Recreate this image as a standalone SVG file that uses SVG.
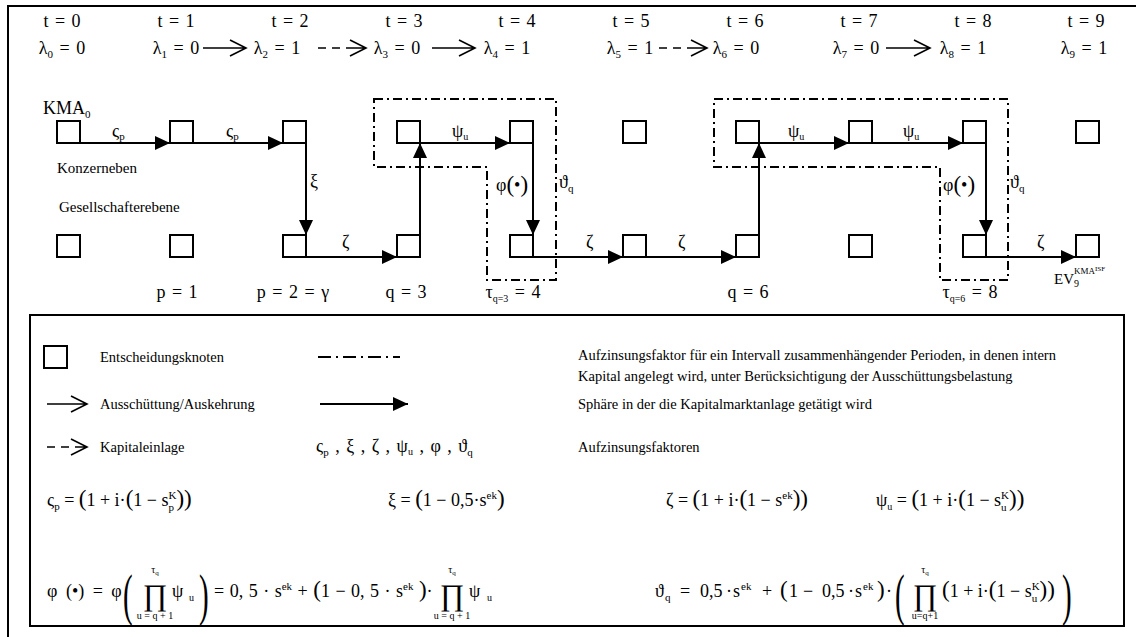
<svg xmlns="http://www.w3.org/2000/svg" width="1136" height="637" viewBox="0 0 1136 637">
<defs>
<marker id="ah" markerUnits="userSpaceOnUse" markerWidth="16" markerHeight="16" refX="15" refY="8" orient="auto">
<path d="M0,1 L15,8 L0,15 Z" fill="#000"/>
</marker>
<style>
text{font-family:"Liberation Serif","Times New Roman",serif;fill:#000}
.m{font-size:18px}
.ws{word-spacing:2px}
.w{font-size:15px}
.lg{font-size:14.5px}
.sb{font-size:11px}
.ss{font-size:10px}
.bp{font-size:23px}
.pr{font-size:30px}
.nd{fill:#fff;stroke:#000;stroke-width:2}
.cn{fill:none;stroke:#000;stroke-width:2;marker-end:url(#ah)}
.dd{fill:none;stroke:#000;stroke-width:2;stroke-dasharray:9 4 2 4}
.oa{fill:none;stroke:#000;stroke-width:1.6}
.da{stroke-dasharray:8 6}
.fr{fill:none;stroke:#000;stroke-width:2}
</style>
</defs>
<rect width="1136" height="637" fill="#fff"/>
<path class="fr" d="M8,637 V6 H1136"/>

<g id="time">
<text class="m ws" x="62" y="27" text-anchor="middle">t = 0</text>
<text class="m ws" x="176" y="27" text-anchor="middle">t = 1</text>
<text class="m ws" x="290" y="27" text-anchor="middle">t = 2</text>
<text class="m ws" x="404" y="27" text-anchor="middle">t = 3</text>
<text class="m ws" x="517" y="27" text-anchor="middle">t = 4</text>
<text class="m ws" x="631" y="27" text-anchor="middle">t = 5</text>
<text class="m ws" x="745" y="27" text-anchor="middle">t = 6</text>
<text class="m ws" x="859" y="27" text-anchor="middle">t = 7</text>
<text class="m ws" x="973" y="27" text-anchor="middle">t = 8</text>
<text class="m ws" x="1086" y="27" text-anchor="middle">t = 9</text>
</g>
<g id="lambda">
<text class="m ws" x="62" y="54" text-anchor="middle">λ<tspan class="sb" dy="4">0</tspan><tspan dy="-4"> = 0</tspan></text>
<text class="m ws" x="176" y="54" text-anchor="middle">λ<tspan class="sb" dy="4">1</tspan><tspan dy="-4"> = 0</tspan></text>
<text class="m ws" x="277" y="54" text-anchor="middle">λ<tspan class="sb" dy="4">2</tspan><tspan dy="-4"> = 1</tspan></text>
<text class="m ws" x="397" y="54" text-anchor="middle">λ<tspan class="sb" dy="4">3</tspan><tspan dy="-4"> = 0</tspan></text>
<text class="m ws" x="507" y="54" text-anchor="middle">λ<tspan class="sb" dy="4">4</tspan><tspan dy="-4"> = 1</tspan></text>
<text class="m ws" x="630" y="54" text-anchor="middle">λ<tspan class="sb" dy="4">5</tspan><tspan dy="-4"> = 1</tspan></text>
<text class="m ws" x="736" y="54" text-anchor="middle">λ<tspan class="sb" dy="4">6</tspan><tspan dy="-4"> = 0</tspan></text>
<text class="m ws" x="856" y="54" text-anchor="middle">λ<tspan class="sb" dy="4">7</tspan><tspan dy="-4"> = 0</tspan></text>
<text class="m ws" x="963" y="54" text-anchor="middle">λ<tspan class="sb" dy="4">8</tspan><tspan dy="-4"> = 1</tspan></text>
<text class="m ws" x="1084" y="54" text-anchor="middle">λ<tspan class="sb" dy="4">9</tspan><tspan dy="-4"> = 1</tspan></text>
</g>
<g id="lambda-arrows">
<path class="oa" d="M203,48 H245 M230,40 L246,48 L230,56"/>
<path class="oa" d="M318,48 H326 M332,48 H340 M346,48 H365 M350,40 L366,48 L350,56"/>
<path class="oa" d="M432,48 H474 M459,40 L475,48 L459,56"/>
<path class="oa" d="M659,48 H667 M673,48 H681 M687,48 H706 M691,40 L707,48 L691,56"/>
<path class="oa" d="M886,48 H929 M914,40 L930,48 L914,56"/>
</g>

<g id="intervals">
<path class="dd" d="M374,99 H556 V280 H487 V167 H374 Z"/>
<path class="dd" d="M714,99 H1008 V280 H940 V167 H714 Z"/>
</g>

<g id="n0k"><rect class="nd" x="57" y="121" width="23" height="22"/></g>
<g id="n1k"><rect class="nd" x="170" y="121" width="23" height="22"/></g>
<g id="n2k"><rect class="nd" x="283" y="121" width="23" height="22"/></g>
<g id="n3k"><rect class="nd" x="397" y="121" width="23" height="22"/></g>
<g id="n4k"><rect class="nd" x="510" y="121" width="23" height="22"/></g>
<g id="n5k"><rect class="nd" x="623" y="121" width="23" height="22"/></g>
<g id="n6k"><rect class="nd" x="736" y="121" width="23" height="22"/></g>
<g id="n7k"><rect class="nd" x="849" y="121" width="23" height="22"/></g>
<g id="n8k"><rect class="nd" x="963" y="121" width="23" height="22"/></g>
<g id="n9k"><rect class="nd" x="1076" y="121" width="23" height="22"/></g>
<g id="n0g"><rect class="nd" x="57" y="235" width="23" height="22"/></g>
<g id="n1g"><rect class="nd" x="170" y="235" width="23" height="22"/></g>
<g id="n2g"><rect class="nd" x="283" y="235" width="23" height="22"/></g>
<g id="n3g"><rect class="nd" x="397" y="235" width="23" height="22"/></g>
<g id="n4g"><rect class="nd" x="510" y="235" width="23" height="22"/></g>
<g id="n5g"><rect class="nd" x="623" y="235" width="23" height="22"/></g>
<g id="n6g"><rect class="nd" x="736" y="235" width="23" height="22"/></g>
<g id="n7g"><rect class="nd" x="849" y="235" width="23" height="22"/></g>
<g id="n8g"><rect class="nd" x="963" y="235" width="23" height="22"/></g>
<g id="n9g"><rect class="nd" x="1076" y="235" width="23" height="22"/></g>

<g id="connectors">
<path class="cn" d="M80,143 H170"/>
<path class="cn" d="M193,143 H283"/>
<path class="cn" d="M306,143 V235"/>
<path class="cn" d="M306,257 H397"/>
<path class="cn" d="M420,257 V143"/>
<path class="cn" d="M420,143 H510"/>
<path class="cn" d="M533,143 V235"/>
<path class="cn" d="M533,257 H623"/>
<path class="cn" d="M646,257 H736"/>
<path class="cn" d="M759,257 V143"/>
<path class="cn" d="M759,143 H849"/>
<path class="cn" d="M872,143 H963"/>
<path class="cn" d="M986,143 V235"/>
<path class="cn" d="M986,257 H1076"/>
</g>

<g id="labels">
<text class="m" x="43" y="114">KMA<tspan class="sb" dy="4">0</tspan></text>
<text class="w" x="57" y="173">Konzerneben</text>
<text class="w" x="59" y="212">Gesellschafterebene</text>
<text class="m" x="112" y="137">ς<tspan class="sb" dy="3">p</tspan></text>
<text class="m" x="226" y="137">ς<tspan class="sb" dy="3">p</tspan></text>
<text class="m" x="310" y="187">ξ</text>
<text class="m" x="342" y="248">ζ</text>
<text class="m" x="452" y="137">ψ<tspan class="ss" dy="3">u</tspan></text>
<text class="m" x="496" y="191">φ<tspan class="bp" dy="1">(</tspan><tspan dy="-1">•</tspan><tspan class="bp" dy="1">)</tspan></text>
<text class="m" x="559" y="188">ϑ<tspan class="sb" dy="4">q</tspan></text>
<text class="m" x="586" y="248">ζ</text>
<text class="m" x="678" y="248">ζ</text>
<text class="m" x="788" y="137">ψ<tspan class="ss" dy="3">u</tspan></text>
<text class="m" x="903" y="137">ψ<tspan class="ss" dy="3">u</tspan></text>
<text class="m" x="943" y="191">φ<tspan class="bp" dy="1">(</tspan><tspan dy="-1">•</tspan><tspan class="bp" dy="1">)</tspan></text>
<text class="m" x="1010" y="188">ϑ<tspan class="sb" dy="4">q</tspan></text>
<text class="m" x="1037" y="248">ζ</text>
<text class="w" x="1054" y="284">EV<tspan class="ss" dy="3">9</tspan><tspan font-size="9" dx="-5" dy="-13">KMA</tspan><tspan font-size="7" dy="-3">ISF</tspan></text>
<text class="m ws" x="177" y="298" text-anchor="middle">p = 1</text>
<text class="m ws" x="293" y="298" text-anchor="middle">p = 2 = γ</text>
<text class="m ws" x="406" y="298" text-anchor="middle">q = 3</text>
<text class="m ws" x="513" y="298" text-anchor="middle">τ<tspan class="ss" dy="4">q=3</tspan><tspan dy="-4"> = 4</tspan></text>
<text class="m ws" x="748" y="298" text-anchor="middle">q = 6</text>
<text class="m ws" x="970" y="298" text-anchor="middle">τ<tspan class="ss" dy="4">q=6</tspan><tspan dy="-4"> = 8</tspan></text>
</g>

<g id="legend">
<rect class="fr" x="30" y="315" width="1094" height="311"/>
<rect class="nd" x="44" y="346" width="23" height="22"/>
<text class="lg" x="100" y="362">Entscheidungsknoten</text>
<path class="dd" d="M318,357 H400" style="stroke-dasharray:13 5 2 5"/>
<text class="lg" x="578" y="360">Aufzinsungsfaktor für ein Intervall zusammenhängender Perioden, in denen intern</text>
<text class="lg" x="578" y="381">Kapital angelegt wird, unter Berücksichtigung der Ausschüttungsbelastung</text>
<path class="oa" d="M47,404 H86 M71,396 L87,404 L71,412"/>
<text class="lg" x="100" y="409">Ausschüttung/Auskehrung</text>
<path class="cn" d="M320,404 H408"/>
<text class="lg" x="578" y="409">Sphäre in der die Kapitalmarktanlage getätigt wird</text>
<path class="oa" d="M47,447 H55 M61,447 H69 M75,447 H86 M71,439 L87,447 L71,455"/>
<text class="lg" x="100" y="452">Kapitaleinlage</text>
<text class="m" x="316" y="452" style="word-spacing:2px">ς<tspan class="sb" dy="4">p</tspan><tspan dy="-4"> , ξ , ζ , ψ</tspan><tspan class="ss" dy="3">u</tspan><tspan dy="-3"> , φ , ϑ</tspan><tspan class="sb" dy="4">q</tspan></text>
<text class="lg" x="578" y="452">Aufzinsungsfaktoren</text>

<text class="m" x="47" y="506">ς<tspan class="sb" dy="4">p</tspan><tspan dy="-4"> = </tspan><tspan class="bp">(</tspan>1 + i·<tspan class="bp">(</tspan>1 − s<tspan class="sb" dy="5">p</tspan><tspan class="sb" dx="-5.5" dy="-12">K</tspan><tspan class="bp" dy="7">)</tspan><tspan class="bp">)</tspan></text>
<text class="m" x="388" y="506">ξ = <tspan class="bp">(</tspan>1 − 0,5·s<tspan class="sb" dy="-7">ek</tspan><tspan class="bp" dy="7">)</tspan></text>
<text class="m" x="666" y="506">ζ = <tspan class="bp">(</tspan>1 + i·<tspan class="bp">(</tspan>1 − s<tspan class="sb" dy="-7">ek</tspan><tspan class="bp" dy="7">)</tspan><tspan class="bp">)</tspan></text>
<text class="m" x="876" y="506">ψ<tspan class="ss" dy="4">u</tspan><tspan dy="-4"> = </tspan><tspan class="bp">(</tspan>1 + i·<tspan class="bp">(</tspan>1 − s<tspan class="sb" dy="5">u</tspan><tspan class="sb" dx="-5.5" dy="-12">K</tspan><tspan class="bp" dy="7">)</tspan><tspan class="bp">)</tspan></text>

<text class="m" x="47" y="597" style="word-spacing:4px">φ (•) = φ</text>
<text font-size="58" transform="translate(123,614) scale(0.5,1)">(</text>
<text class="pr" x="155" y="605" text-anchor="middle">∏</text>
<text class="ss" x="155" y="573" text-anchor="middle">τ<tspan font-size="7" dy="2">q</tspan></text>
<text class="ss" x="155" y="619" text-anchor="middle">u = q + 1</text>
<text class="m" x="172" y="597">ψ</text>
<text class="ss" x="189" y="601">u</text>
<text font-size="58" transform="translate(199,614) scale(0.5,1)">)</text>
<text class="m" x="214" y="597" style="word-spacing:1px">= 0, 5 · s<tspan class="sb" dy="-7">ek</tspan><tspan dy="7"> + </tspan><tspan class="bp">(</tspan>1 − 0, 5 · s<tspan class="sb" dy="-7">ek</tspan><tspan dy="7"> </tspan><tspan class="bp">)</tspan>·</text>
<text class="pr" x="452" y="605" text-anchor="middle">∏</text>
<text class="ss" x="452" y="573" text-anchor="middle">τ<tspan font-size="7" dy="2">q</tspan></text>
<text class="ss" x="452" y="619" text-anchor="middle">u = q + 1</text>
<text class="m" x="469" y="597">ψ</text>
<text class="ss" x="487" y="601">u</text>

<text class="m" x="655" y="597">ϑ<tspan class="sb" x="665" dy="4">q</tspan><tspan x="680" dy="-4">=</tspan><tspan x="700">0,5</tspan><tspan x="726">·</tspan><tspan x="733">s</tspan><tspan class="sb" x="741" dy="-7">ek</tspan><tspan x="762" dy="7">+</tspan><tspan class="bp" x="780">(</tspan><tspan x="789">1</tspan><tspan x="803">−</tspan><tspan x="822">0,5</tspan><tspan x="848">·</tspan><tspan x="855">s</tspan><tspan class="sb" x="863" dy="-7">ek</tspan><tspan class="bp" x="877" dy="7">)</tspan><tspan x="886">·</tspan></text>
<text font-size="58" transform="translate(895,614) scale(0.5,1)">(</text>
<text class="pr" x="925" y="605" text-anchor="middle">∏</text>
<text class="ss" x="925" y="573" text-anchor="middle">τ<tspan font-size="7" dy="2">q</tspan></text>
<text class="ss" x="925" y="619" text-anchor="middle">u=q+1</text>
<text class="m" x="942" y="597"><tspan class="bp">(</tspan>1 + i·<tspan class="bp">(</tspan>1 − s<tspan class="sb" dy="5">u</tspan><tspan class="sb" dx="-5.5" dy="-12">K</tspan><tspan class="bp" dy="7">)</tspan><tspan class="bp">)</tspan></text>
<text font-size="58" transform="translate(1062,614) scale(0.5,1)">)</text>
</g>
</svg>
